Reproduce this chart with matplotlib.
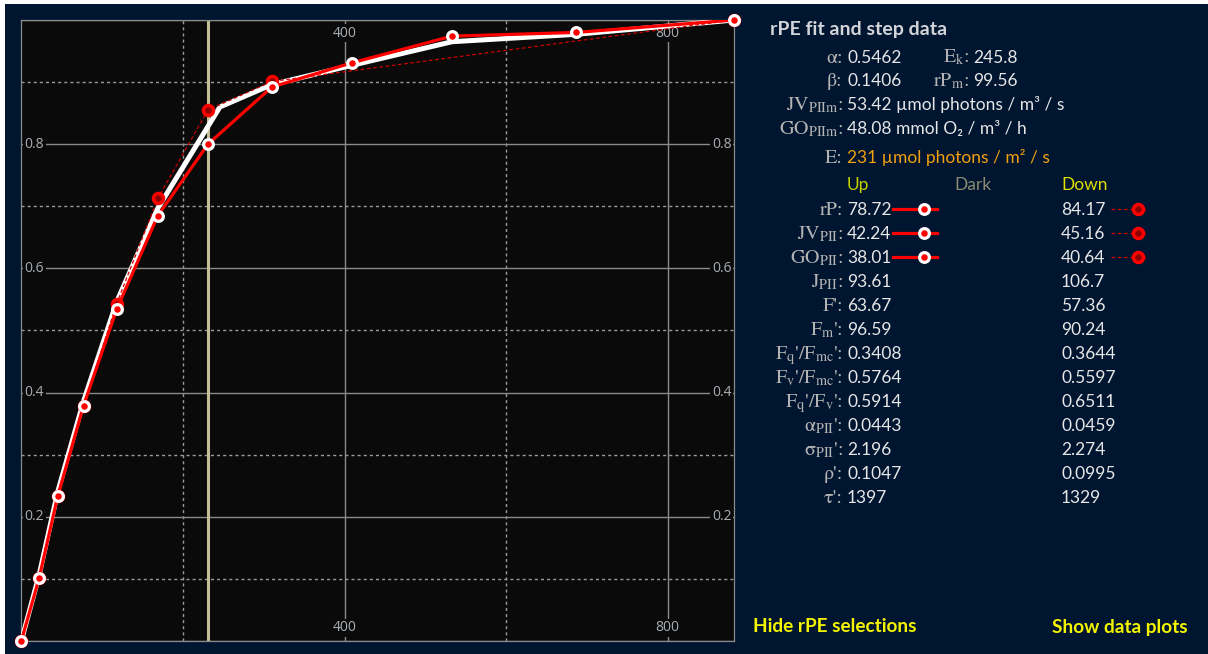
import matplotlib
matplotlib.use("Agg")
import matplotlib.pyplot as plt
from matplotlib.ticker import MultipleLocator, FixedLocator
from matplotlib.patches import Rectangle

plt.rcParams["mathtext.fontset"] = "stix"

# ---- data -------------------------------------------------------------
# Step data, light increasing (Up) and decreasing (Down): E vs relative rP
up_E = [0, 22, 45, 77, 118, 169, 231, 310, 409, 533, 687, 882]
up_rP = [0, 0.101, 0.233, 0.379, 0.534, 0.685, 0.800, 0.892, 0.931, 0.974, 0.980, 1.0]

down_E = [0, 22, 45, 77, 118, 169, 231, 310, 882]
down_rP = [0, 0.101, 0.233, 0.379, 0.543, 0.713, 0.855, 0.901, 1.0]

# rPE fit curve
fit_E = [0, 22, 45, 77, 118, 169, 245.8, 310, 409, 533, 687, 882]
fit_rP = [0, 0.106, 0.240, 0.386, 0.546, 0.697, 0.860, 0.896, 0.927, 0.965, 0.977, 1.0]

E_now = 231

x_major = [400, 800]
x_minor = [200, 600]
y_labels = [0.2, 0.4, 0.6, 0.8]

fit_params = [("α", "0.5462", "E$_{\\mathrm{k}}$", "245.8"),
              ("β", "0.1406", "rP$_{\\mathrm{m}}$", "99.56")]
fit_units = [("JV$_{\\mathrm{PIIm}}$", "53.42 µmol photons / m³ / s"),
             ("GO$_{\\mathrm{PIIm}}$", "48.08 mmol O₂ / m³ / h")]
E_text = "231 µmol photons / m² / s"

step_labels = ["rP", "JV$_{\\mathrm{PII}}$", "GO$_{\\mathrm{PII}}$", "J$_{\\mathrm{PII}}$",
               "F'", "F$_{\\mathrm{m}}$'", "F$_{\\mathrm{q}}$'/F$_{\\mathrm{mc}}$'",
               "F$_{\\mathrm{v}}$'/F$_{\\mathrm{mc}}$'", "F$_{\\mathrm{q}}$'/F$_{\\mathrm{v}}$'",
               "α$_{\\mathrm{PII}}$'", "σ$_{\\mathrm{PII}}$'", "ρ'", "τ'"]
up_vals = ["78.72", "42.24", "38.01", "93.61", "63.67", "96.59", "0.3408",
           "0.5764", "0.5914", "0.0443", "2.196", "0.1047", "1397"]
down_vals = ["84.17", "45.16", "40.64", "106.7", "57.36", "90.24", "0.3644",
             "0.5597", "0.6511", "0.0459", "2.274", "0.0995", "1329"]

# ---- style ------------------------------------------------------------
NAVY = "#00152f"
PLOT_BG = "#0a0a0a"
GRID = "#8a8a8a"
TICK_C = "#a8aeb4"
LAB_C = "#b4b4b4"
VAL_C = "#e6e6e6"
RED = "#ff0000"
DRED = "#8c0000"
SANS = ["Lato", "DejaVu Sans"]
SERIF = ["STIXGeneral", "DejaVu Serif"]

W, H = 1208, 654
fig = plt.figure(figsize=(W / 100, H / 100), dpi=100, facecolor="white")
fig.patches.append(Rectangle((5 / W, 0), 1 - 5 / W, (H - 4) / H,
                             transform=fig.transFigure, facecolor=NAVY,
                             edgecolor="none", zorder=-10))

# ---- chart ------------------------------------------------------------
ax = fig.add_axes([21.3 / W, 13 / H, (734 - 21.3) / W, 621 / H])
ax.set_facecolor(PLOT_BG)
ax.set_xlim(0, 882)
ax.set_ylim(0, 1)
ax.xaxis.set_major_locator(FixedLocator(x_major))
ax.xaxis.set_minor_locator(FixedLocator(x_minor))
ax.yaxis.set_major_locator(MultipleLocator(0.2))
ax.yaxis.set_minor_locator(MultipleLocator(0.1))
ax.tick_params(which="both", length=0, labelbottom=False, labelleft=False)
ax.set_axisbelow(True)
ax.grid(which="major", color=GRID, lw=1.0, ls="-")
ax.grid(which="minor", color="#9a9a9a", lw=1.0, ls=(0, (2.2, 2.2)))
for sp in ax.spines.values():
    sp.set_color(GRID)
    sp.set_linewidth(0.9)

lab_box = dict(facecolor=PLOT_BG, edgecolor="none", pad=1.2)
TICK_FONT = dict(color=TICK_C, fontsize=10, family="Open Sans", bbox=lab_box,
                 zorder=1)
for v in y_labels:
    ax.text(0.0045, v, f"{v:g}", transform=ax.get_yaxis_transform(), ha="left",
            va="center", **TICK_FONT)
    ax.text(0.9965, v, f"{v:g}", transform=ax.get_yaxis_transform(), ha="right",
            va="center", **TICK_FONT)
for v in x_major:
    for yf in (0.979, 0.021):
        ax.text(v, yf, f"{v}", transform=ax.get_xaxis_transform(), ha="center",
                va="center", **TICK_FONT)

ax.axvline(E_now, color="#c4c096", lw=2.2, zorder=1.5)

ax.plot(fit_E, fit_rP, color="white", lw=3.6, solid_joinstyle="round",
        solid_capstyle="round", zorder=3)
ax.plot(down_E, down_rP, color="#c80000", lw=0.9, ls=(0, (3, 2)), zorder=4)
ax.plot(down_E, down_rP, ls="none", marker="o", ms=7.2, mfc=DRED, mec=RED,
        mew=2.5, zorder=5, clip_on=False)
ax.plot(up_E, up_rP, color=RED, lw=2.3, zorder=6)
ax.plot(up_E, up_rP, ls="none", marker="o", ms=7, mfc=RED, mec="white",
        mew=2.3, zorder=7, clip_on=False)

# ---- side panel -------------------------------------------------------
tx = fig.add_axes([0, 0, 1, 1], zorder=5)
tx.set_xlim(0, W)
tx.set_ylim(H, 0)
tx.axis("off")
tx.patch.set_alpha(0)


def label(x, y, s):
    tx.text(x, y + 6, s + ":", ha="right", va="baseline", family=SERIF,
            fontsize=14.5, color=LAB_C)


def value(x, y, s, color=VAL_C, **kw):
    tx.text(x, y + 6, s, ha="left", va="baseline", family=SANS,
            fontsize=12.5, color=color, **kw)


tx.text(770, 29, "rPE fit and step data", ha="left", va="center", family=SANS,
        fontsize=14, fontweight="bold", color="#d2d4d8")

for i, (l1, v1, l2, v2) in enumerate(fit_params):
    y = 56.7 + i * 23.5
    label(843, y, l1)
    value(847, y, v1)
    label(969, y, l2)
    value(973, y, v2)
for i, (l, v) in enumerate(fit_units):
    y = 104.3 + i * 24
    label(843, y, l)
    value(847, y, v)
label(843, 156.7, "E")
value(847, 156.7, E_text, color="#f0a010")

HEAD = dict(ha="left", va="center", family=SANS, fontsize=12.5)
tx.text(847, 185, "Up", color="#c8d200", **HEAD)
tx.text(954, 185, "Dark", color="#8c8c72", **HEAD)
tx.text(1061, 185, "Down", color="#dede00", **HEAD)

for i, (l, u, d) in enumerate(zip(step_labels, up_vals, down_vals)):
    y = 209 + i * 24
    label(843, y, l)
    value(847, y, u)
    value(1061, y, d)
    if i < 3:
        tx.plot([893, 937], [y, y], color=RED, lw=2.3)
        tx.plot([924], [y], ls="none", marker="o", ms=7, mfc=RED,
                mec="white", mew=2.3)
        tx.plot([1111, 1147], [y, y], color="#c80000", lw=0.9, ls=(0, (3, 2)))
        tx.plot([1138], [y], ls="none", marker="o", ms=7.2, mfc=DRED, mec=RED,
                mew=2.5)

BTN = dict(ha="left", va="center", family=SANS, fontsize=13.7,
           fontweight="bold", color="#f4f400")
tx.text(753, 627, "Hide rPE selections", **BTN)
tx.text(1052, 627, "Show data plots", **BTN)

fig.savefig("out.png", dpi=100, facecolor=fig.get_facecolor())
